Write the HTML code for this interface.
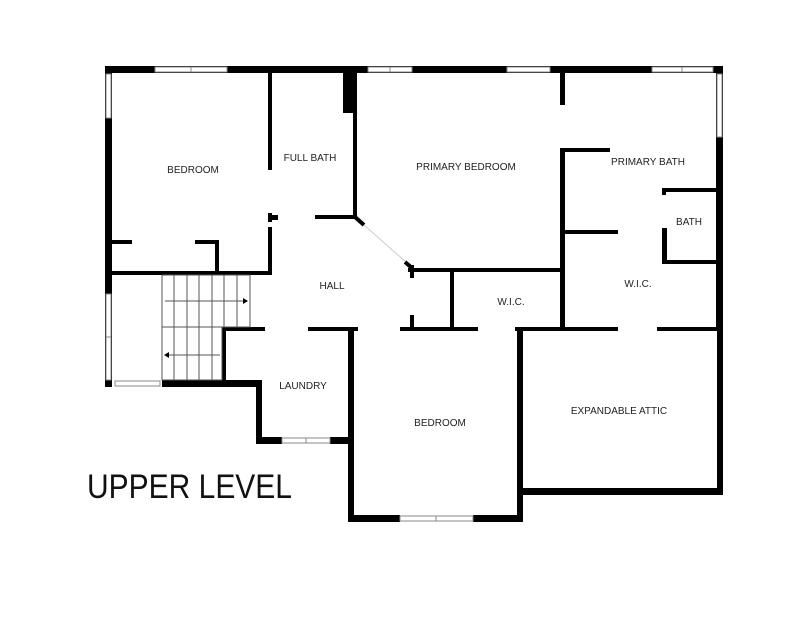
<!DOCTYPE html>
<html><head><meta charset="utf-8"><style>
html,body{margin:0;padding:0;background:#fff;}
svg{display:block}
text{font-family:"Liberation Sans",sans-serif;fill:#222;}
</style></head><body>
<svg width="800" height="617" viewBox="0 0 800 617" xmlns="http://www.w3.org/2000/svg">
<g fill="#000">
<!-- outer top -->
<rect x="105" y="66" width="618" height="7"/>
<!-- left wall -->
<rect x="105" y="66" width="7" height="321"/>
<!-- right wall -->
<rect x="716" y="66" width="7" height="262"/>
<!-- full bath -->
<rect x="268" y="73" width="4" height="97"/>
<rect x="268" y="213" width="4" height="9"/><rect x="268" y="215" width="10" height="5"/>
<rect x="268" y="227" width="4" height="48"/>
<rect x="343" y="73" width="14" height="40"/>
<rect x="353" y="73" width="4" height="146"/>
<rect x="315" y="215" width="42" height="4"/>
<!-- bedroom closet -->
<rect x="112" y="240" width="20" height="4"/>
<rect x="195" y="240" width="24" height="4"/>
<rect x="215" y="240" width="4" height="33"/>
<rect x="105" y="271" width="167" height="4"/>
<!-- hall right -->
<rect x="410" y="265" width="4" height="13"/>
<rect x="410" y="315" width="4" height="13"/>
<!-- wic -->
<rect x="408" y="268" width="157" height="4"/>
<rect x="450" y="268" width="4" height="60"/>
<!-- primary -->
<rect x="560" y="73" width="5" height="32"/>
<rect x="560" y="148" width="5" height="180"/>
<rect x="565" y="148" width="45" height="4"/>
<rect x="565" y="230" width="53" height="4"/>
<rect x="662" y="188" width="58" height="4"/>
<rect x="662" y="188" width="4" height="7"/>
<rect x="662" y="228" width="5" height="34"/>
<rect x="662" y="260" width="58" height="4"/>
<!-- middle horizontal -->
<rect x="222" y="327" width="43" height="4"/>
<rect x="308" y="327" width="50" height="4"/>
<rect x="400" y="327" width="78" height="4"/>
<rect x="515" y="327" width="103" height="4"/>
<rect x="657" y="327" width="66" height="4"/>
<!-- laundry -->
<rect x="222" y="327" width="4" height="53"/>
<rect x="162" y="380" width="100" height="7"/>
<rect x="256" y="380" width="6" height="64"/>
<rect x="256" y="437" width="26" height="7"/>
<rect x="330" y="437" width="24" height="7"/>
<rect x="349" y="327" width="5" height="117"/>
<!-- bedroom bottom -->
<rect x="348" y="327" width="6" height="195"/>
<rect x="348" y="515" width="52" height="7"/>
<rect x="473" y="515" width="50" height="7"/>
<rect x="517" y="327" width="6" height="195"/>
<!-- attic -->
<rect x="517" y="488" width="206" height="7"/>
<rect x="717" y="327" width="6" height="168"/>
</g>
<!-- windows -->
<g fill="#fff" stroke="#888" stroke-width="1">
<rect x="155" y="67" width="72" height="5"/>
<rect x="368" y="67" width="44" height="5"/>
<rect x="507" y="67" width="43" height="5"/>
<rect x="652" y="67" width="61" height="5"/>
<rect x="106" y="74" width="5" height="44"/>
<rect x="106" y="294" width="5" height="86"/>
<rect x="717" y="74" width="5" height="63"/>
<rect x="115" y="381" width="45" height="5"/>
<rect x="282" y="438" width="48" height="5"/>
<rect x="400" y="516" width="73" height="5"/>
</g>
<g stroke="#888" stroke-width="1">
<line x1="191" y1="67" x2="191" y2="72"/><line x1="390" y1="67" x2="390" y2="72"/>
<line x1="682" y1="67" x2="682" y2="72"/><line x1="306" y1="438" x2="306" y2="443"/>
<line x1="436" y1="516" x2="436" y2="521"/><line x1="106" y1="337" x2="111" y2="337"/>
</g>
<!-- diagonal wall/door -->
<line x1="355" y1="217" x2="364" y2="225" stroke="#000" stroke-width="4"/>
<line x1="364" y1="225" x2="407" y2="263" stroke="#ccc" stroke-width="1"/>
<line x1="405" y1="262" x2="412" y2="268" stroke="#000" stroke-width="4"/>
<!-- stairs -->
<g stroke="#555" stroke-width="1" fill="none">
<rect x="162" y="275" width="88" height="52"/>
<rect x="162" y="327" width="60" height="53"/>
<line x1="174" y1="275" x2="174" y2="380"/><line x1="187" y1="275" x2="187" y2="380"/>
<line x1="199" y1="275" x2="199" y2="380"/><line x1="212" y1="275" x2="212" y2="380"/>
<line x1="224" y1="275" x2="224" y2="327"/><line x1="237" y1="275" x2="237" y2="327"/>
<line x1="165" y1="301" x2="245" y2="301"/><line x1="168" y1="355" x2="220" y2="355"/>
</g>
<polygon points="248,301 243,298 243,304" fill="#000"/>
<polygon points="164,355 169,352 169,358" fill="#000"/>
<g font-size="10" text-anchor="middle">
<text x="193" y="173">BEDROOM</text>
<text x="310" y="161">FULL BATH</text>
<text x="466" y="170">PRIMARY BEDROOM</text>
<text x="648" y="165">PRIMARY BATH</text>
<text x="689" y="225">BATH</text>
<text x="332" y="289">HALL</text>
<text x="511" y="305">W.I.C.</text>
<text x="638" y="287">W.I.C.</text>
<text x="303" y="389">LAUNDRY</text>
<text x="440" y="426">BEDROOM</text>
<text x="619" y="414">EXPANDABLE ATTIC</text>
</g>
<text x="87" y="498" font-size="34" textLength="205" lengthAdjust="spacingAndGlyphs" style="fill:#111">UPPER LEVEL</text>
</svg>
</body></html>
